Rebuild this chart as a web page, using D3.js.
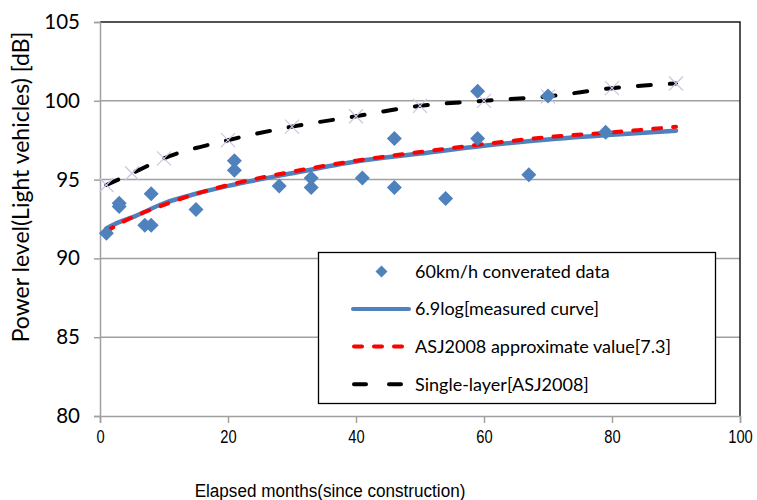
<!DOCTYPE html>
<html><head><meta charset="utf-8">
<script src="https://cdn.jsdelivr.net/npm/d3@7"></script>
<style>
html,body{margin:0;padding:0;background:#fff;}
svg{display:block;}
</style></head>
<body>
<svg id="chart" width="757" height="500"></svg>
<script>
// ---- data ----
const dataMonths = [1,3,3,7,8,8,15,21,21,28,33,33,41,46,46,54,59,59,67,70,79];
const dataLevels = [91.6,93.5,93.3,92.1,94.1,92.1,93.1,96.2,95.6,94.6,95.1,94.5,95.1,97.6,94.5,93.8,100.6,97.6,95.3,100.3,98.0];

const curveMonths = [1,3,5,10,15,20,30,40,50,60,70,80,90];
const measuredCurve = [91.9,92.3,92.6,93.5,94.1,94.6,95.4,96.15,96.65,97.15,97.55,97.85,98.1];
const asjApprox = [91.7,92.2,92.6,93.4,94.1,94.65,95.5,96.2,96.75,97.25,97.7,98.0,98.35];

const singleMonths = [1,5,10,20,30,40,50,60,70,80,90];
const singleLayer = [94.66,95.4,96.35,97.5,98.36,99.02,99.68,100.0,100.28,100.8,101.1];

const xTicks = [0,20,40,60,80,100];
const yTicks = [80,85,90,95,100,105];

const legendLabels = ["60km/h converated data","6.9log[measured curve]","ASJ2008 approximate value[7.3]","Single-layer[ASJ2008]"];
const xTitle = "Elapsed months(since construction)";
const yTitle = "Power level(Light vehicles) [dB]";

// ---- chart ----
const svg = d3.select("#chart");
const x = d3.scaleLinear().domain([0,100]).range([100,740]);
const y = d3.scaleLinear().domain([80,105]).range([416,22]);
const baseFont = "Lato, 'Open Sans', sans-serif";
const narrowFont = "'Liberation Sans Narrow', 'Arial Narrow', sans-serif";

// gridlines
svg.append("g").selectAll("line").data(yTicks.filter(d=>d>80 && d<105)).join("line")
  .attr("x1",x(0)).attr("x2",x(100)).attr("y1",d=>y(d)).attr("y2",d=>y(d))
  .attr("stroke","#a0a0a0").attr("stroke-width",1.5);

// plot border top/right
svg.append("path").attr("d",`M${x(0)},${y(105)}H${x(100)}V${y(80)}`)
  .attr("fill","none").attr("stroke","#1a1a1a").attr("stroke-width",1.5);

// y axis
const yAxis = svg.append("g").attr("transform",`translate(${x(0)},0)`)
  .call(d3.axisLeft(y).tickValues(yTicks).tickSize(6).tickPadding(14));
yAxis.select(".domain").attr("stroke","#a0a0a0").attr("stroke-width",1.5);
yAxis.selectAll(".tick line").attr("stroke","#a0a0a0").attr("stroke-width",1.5);
yAxis.selectAll("text").attr("font-family",baseFont).attr("font-size",20.5).attr("fill","#000");

// x axis
const xAxis = svg.append("g").attr("transform",`translate(0,${y(80)})`)
  .call(d3.axisBottom(x).tickValues(xTicks).tickSize(7).tickPadding(0));
xAxis.select(".domain").attr("stroke","#a0a0a0").attr("stroke-width",1.5);
xAxis.selectAll(".tick line").attr("stroke","#a0a0a0").attr("stroke-width",1.5);
xAxis.selectAll(".tick text").attr("y",null).attr("dy",null)
  .attr("transform","translate(0,27) scale(0.84,1)")
  .attr("font-family",narrowFont).attr("font-size",17.5).attr("fill","#000");

// titles
svg.append("text").attr("transform","translate(330,497) scale(0.9,1)").attr("text-anchor","middle")
  .attr("font-family",narrowFont).attr("font-size",19).text(xTitle);
svg.append("text").attr("transform","translate(29,187) rotate(-90)").attr("text-anchor","middle")
  .attr("font-family",baseFont).attr("font-size",23).text(yTitle);

// lines
const line = d3.line().curve(d3.curveMonotoneX);
const singlePts = singleMonths.map((m,i)=>[x(m),y(singleLayer[i])]);
svg.append("path").attr("d",line(singlePts)).attr("fill","none")
  .attr("stroke","#000").attr("stroke-width",4).attr("stroke-dasharray","13 19").attr("stroke-linecap","round");
// x markers
svg.append("g").selectAll("path").data(singlePts).join("path")
  .attr("d",d=>`M${d[0]-7},${d[1]-7}L${d[0]+7},${d[1]+7}M${d[0]-7},${d[1]+7}L${d[0]+7},${d[1]-7}`)
  .attr("stroke","#ccc4e6").attr("stroke-width",1.2);

svg.append("path").attr("d",line(curveMonths.map((m,i)=>[x(m),y(measuredCurve[i])])))
  .attr("fill","none").attr("stroke","#4f81bd").attr("stroke-width",4.5).attr("stroke-linecap","round");
svg.append("path").attr("d",line(curveMonths.map((m,i)=>[x(m),y(asjApprox[i])])))
  .attr("fill","none").attr("stroke","#ff0000").attr("stroke-width",4).attr("stroke-dasharray","8 12").attr("stroke-linecap","round");

// diamonds
const dia = s => `M0,${-s}L${s},0L0,${s}L${-s},0Z`;
svg.append("g").selectAll("path").data(dataMonths.map((m,i)=>[m,dataLevels[i]])).join("path")
  .attr("transform",d=>`translate(${x(d[0])},${y(d[1])})`).attr("d",dia(7.5)).attr("fill","#4f81bd");

// legend
const lg = svg.append("g");
lg.append("rect").attr("x",318.5).attr("y",252.5).attr("width",397).attr("height",151)
  .attr("fill","#fff").attr("stroke","#000").attr("stroke-width",1.3);
const rowsY = [271.5,309,346.5,384.3];
lg.append("path").attr("transform",`translate(381.5,${rowsY[0]})`).attr("d",dia(6)).attr("fill","#4f81bd");
lg.append("line").attr("x1",353).attr("x2",409).attr("y1",rowsY[1]).attr("y2",rowsY[1])
  .attr("stroke","#4f81bd").attr("stroke-width",4).attr("stroke-linecap","round");
lg.append("line").attr("x1",354).attr("x2",409).attr("y1",rowsY[2]).attr("y2",rowsY[2])
  .attr("stroke","#ff0000").attr("stroke-width",4).attr("stroke-dasharray","8 12").attr("stroke-linecap","round");
lg.append("line").attr("x1",354).attr("x2",409).attr("y1",rowsY[3]).attr("y2",rowsY[3])
  .attr("stroke","#000").attr("stroke-width",4).attr("stroke-dasharray","12 23").attr("stroke-linecap","round");
lg.selectAll("text.lab").data(legendLabels).join("text").attr("class","lab")
  .attr("x",415).attr("y",(d,i)=>rowsY[i]).attr("dy","0.35em")
  .attr("font-family",baseFont).attr("font-size",18).text(d=>d);
</script>
</body></html>
